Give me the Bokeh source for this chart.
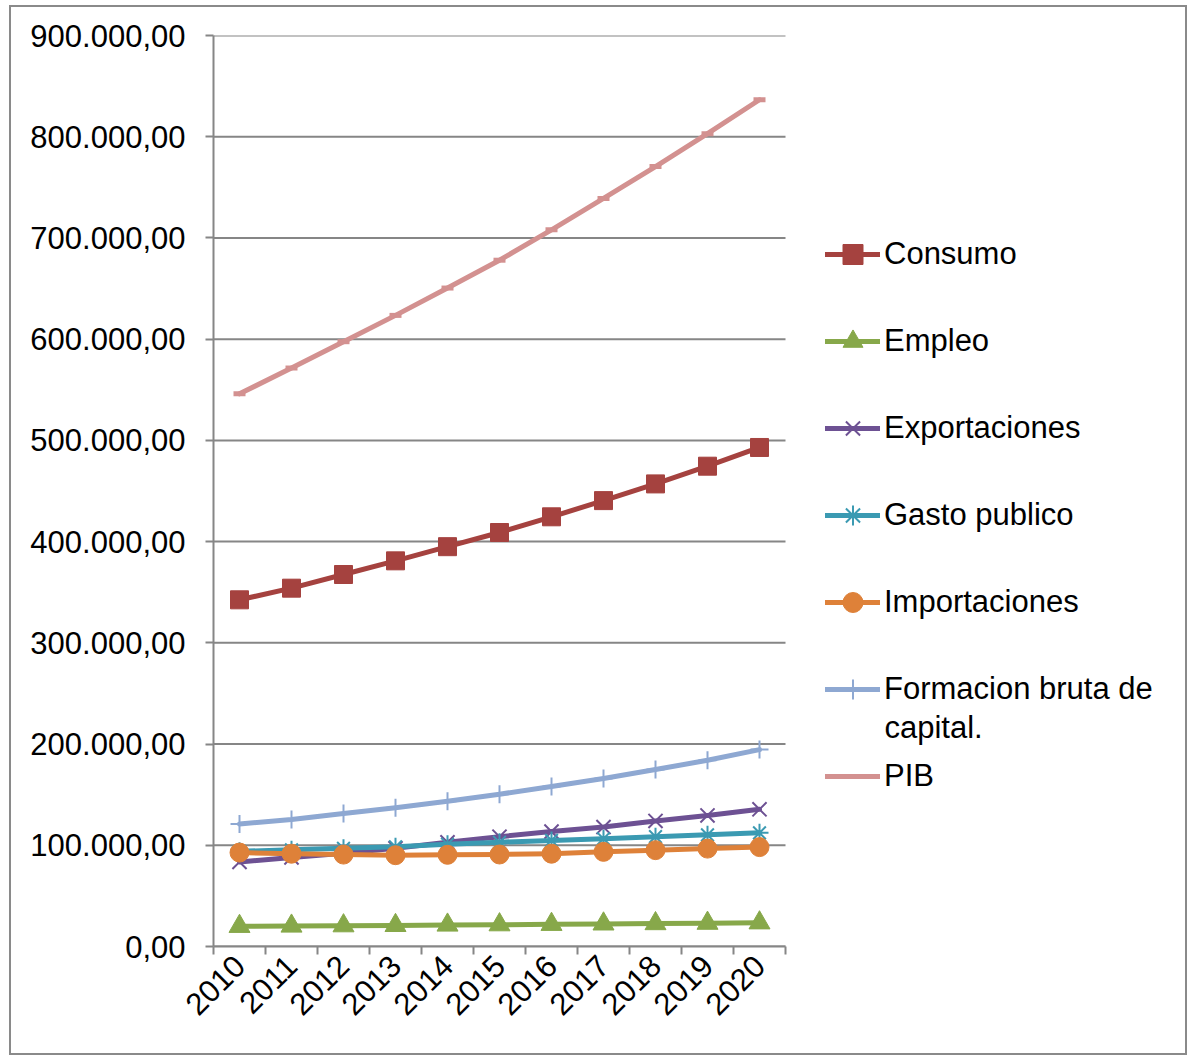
from bokeh.plotting import figure
from bokeh.models import (Range1d, FixedTicker, LinearAxis, Legend, LegendItem, Label)
from bokeh.embed import file_html
from bokeh.resources import INLINE

years = ["2010", "2011", "2012", "2013", "2014", "2015", "2016", "2017", "2018", "2019", "2020"]
consumo = [342500, 354000, 367500, 381000, 395000, 409000, 424500, 440500, 457000, 474500, 493000]
empleo = [19900, 20200, 20500, 20800, 21200, 21500, 21900, 22300, 22600, 23000, 23400]
exportaciones = [83500, 88000, 92000, 97000, 103000, 108500, 113500, 118000, 124000, 129500, 135500]
gasto_publico = [94000, 95500, 97000, 98500, 101000, 103000, 104800, 106500, 108500, 110300, 112300]
importaciones = [92800, 91700, 90800, 90200, 90600, 90900, 91700, 93500, 95200, 96700, 98200]
formacion = [121000, 125500, 131500, 137000, 143500, 150500, 158000, 166000, 174800, 184000, 194500]
pib = [546000, 571500, 597500, 623500, 650500, 678000, 708000, 739000, 770500, 803000, 836500]

y_ticks = [0, 100000, 200000, 300000, 400000, 500000, 600000, 700000, 800000, 900000]
y_tick_labels = ["0,00", "100.000,00", "200.000,00", "300.000,00", "400.000,00",
                 "500.000,00", "600.000,00", "700.000,00", "800.000,00", "900.000,00"]

FONT = "Liberation Sans"
FS = "31px"
GRID = "#868686"

# layout: the plotting area (572 px wide) sits in a wider frame so that the
# legend (right of the plotting area) is not clipped
W, H = 1178, 1050
LEFT, RIGHT, TOP, BOTTOM = 204, 2, 30, 109
FRAME_W = W - LEFT - RIGHT
PLOT_W = 572
n = len(years)
x_end = n * FRAME_W / PLOT_W

xs = [i + 0.5 for i in range(n)]

p = figure(width=W, height=H, output_backend="svg", toolbar_location=None,
           x_range=Range1d(0, x_end), y_range=Range1d(0, 900000),
           min_border_left=LEFT, min_border_right=RIGHT, min_border_top=TOP,
           min_border_bottom=BOTTOM, x_axis_type=None, y_axis_type=None)
p.outline_line_color = None
p.border_fill_alpha = 0
p.background_fill_alpha = 0
p.styles = {"outline": "2px solid #8a8a8a", "outline-offset": "-2px",
            "margin-left": "9px", "margin-top": "5px"}

xaxis = LinearAxis(ticker=FixedTicker(ticks=xs, minor_ticks=list(range(n + 1))),
                   major_label_overrides={x: y for x, y in zip(xs, years)},
                   bounds=(0, n))
xaxis.major_tick_out = 0
xaxis.major_tick_in = 0
xaxis.minor_tick_out = 8
xaxis.minor_tick_in = 0
xaxis.minor_tick_line_color = GRID
xaxis.minor_tick_line_width = 2
xaxis.axis_line_color = GRID
xaxis.axis_line_width = 2
xaxis.major_label_orientation = 3.14159265 / 4
xaxis.major_label_text_font = FONT
xaxis.major_label_text_font_size = FS
xaxis.major_label_text_color = "black"
xaxis.major_label_standoff = 6
p.add_layout(xaxis, "below")

yaxis = LinearAxis(ticker=FixedTicker(ticks=y_ticks),
                   major_label_overrides={t: l for t, l in zip(y_ticks, y_tick_labels)})
yaxis.major_tick_out = 8
yaxis.major_tick_in = 0
yaxis.major_tick_line_color = GRID
yaxis.major_tick_line_width = 2
yaxis.minor_tick_out = 0
yaxis.minor_tick_in = 0
yaxis.axis_line_color = GRID
yaxis.axis_line_width = 2
yaxis.major_label_text_font = FONT
yaxis.major_label_text_font_size = FS
yaxis.major_label_text_color = "black"
yaxis.major_label_standoff = 20
p.add_layout(yaxis, "left")

p.xgrid.visible = False
p.ygrid.visible = False
# horizontal gridlines limited to the plotting area
p.segment(x0=[0] * len(y_ticks), x1=[n] * len(y_ticks), y0=y_ticks, y1=y_ticks,
          line_color=GRID, line_width=2, level="underlay")

series = [
    ("Consumo", consumo, "#A5423F", "square", 18),
    ("Empleo", empleo, "#87A84A", "triangle", 21),
    ("Exportaciones", exportaciones, "#6D5193", "x", 20),
    ("Gasto publico", gasto_publico, "#3B9AB2", "asterisk", 18),
    ("Importaciones", importaciones, "#DE8139", "circle", 19),
    ("Formacion bruta de", formacion, "#8EA8D2", "cross", 18),
    ("PIB", pib, "#D39190", "dash", 12),
]

items = []
for name, vals, color, marker, size in series:
    lr = p.line(xs, vals, line_color=color, line_width=5, line_join="round", line_cap="round")
    if marker in ("x", "asterisk", "cross"):
        sr = p.scatter(xs, vals, marker=marker, size=size, line_color=color, line_width=2,
                       fill_color=None)
    elif marker == "dash":
        sr = p.scatter(xs, vals, marker=marker, size=size, line_color=color, line_width=5)
    else:
        sr = p.scatter(xs, vals, marker=marker, size=size, fill_color=color, line_color=color)
    items.append(LegendItem(label=name, renderers=[lr, sr]))

legend = Legend(items=items, location=(612, 145), orientation="vertical",
                label_text_font=FONT, label_text_font_size=FS, label_text_color="black",
                glyph_width=55, glyph_height=50, label_height=50, label_standoff=4,
                spacing=37, padding=0, margin=0, border_line_color=None,
                background_fill_alpha=0)
p.add_layout(legend, "center")

p.add_layout(Label(x=671, y=219, x_units="screen", y_units="screen", text="capital.",
                   text_font=FONT, text_font_size=FS, text_color="black",
                   text_baseline="middle"))

open("out.html", "w").write(file_html(p, INLINE))
